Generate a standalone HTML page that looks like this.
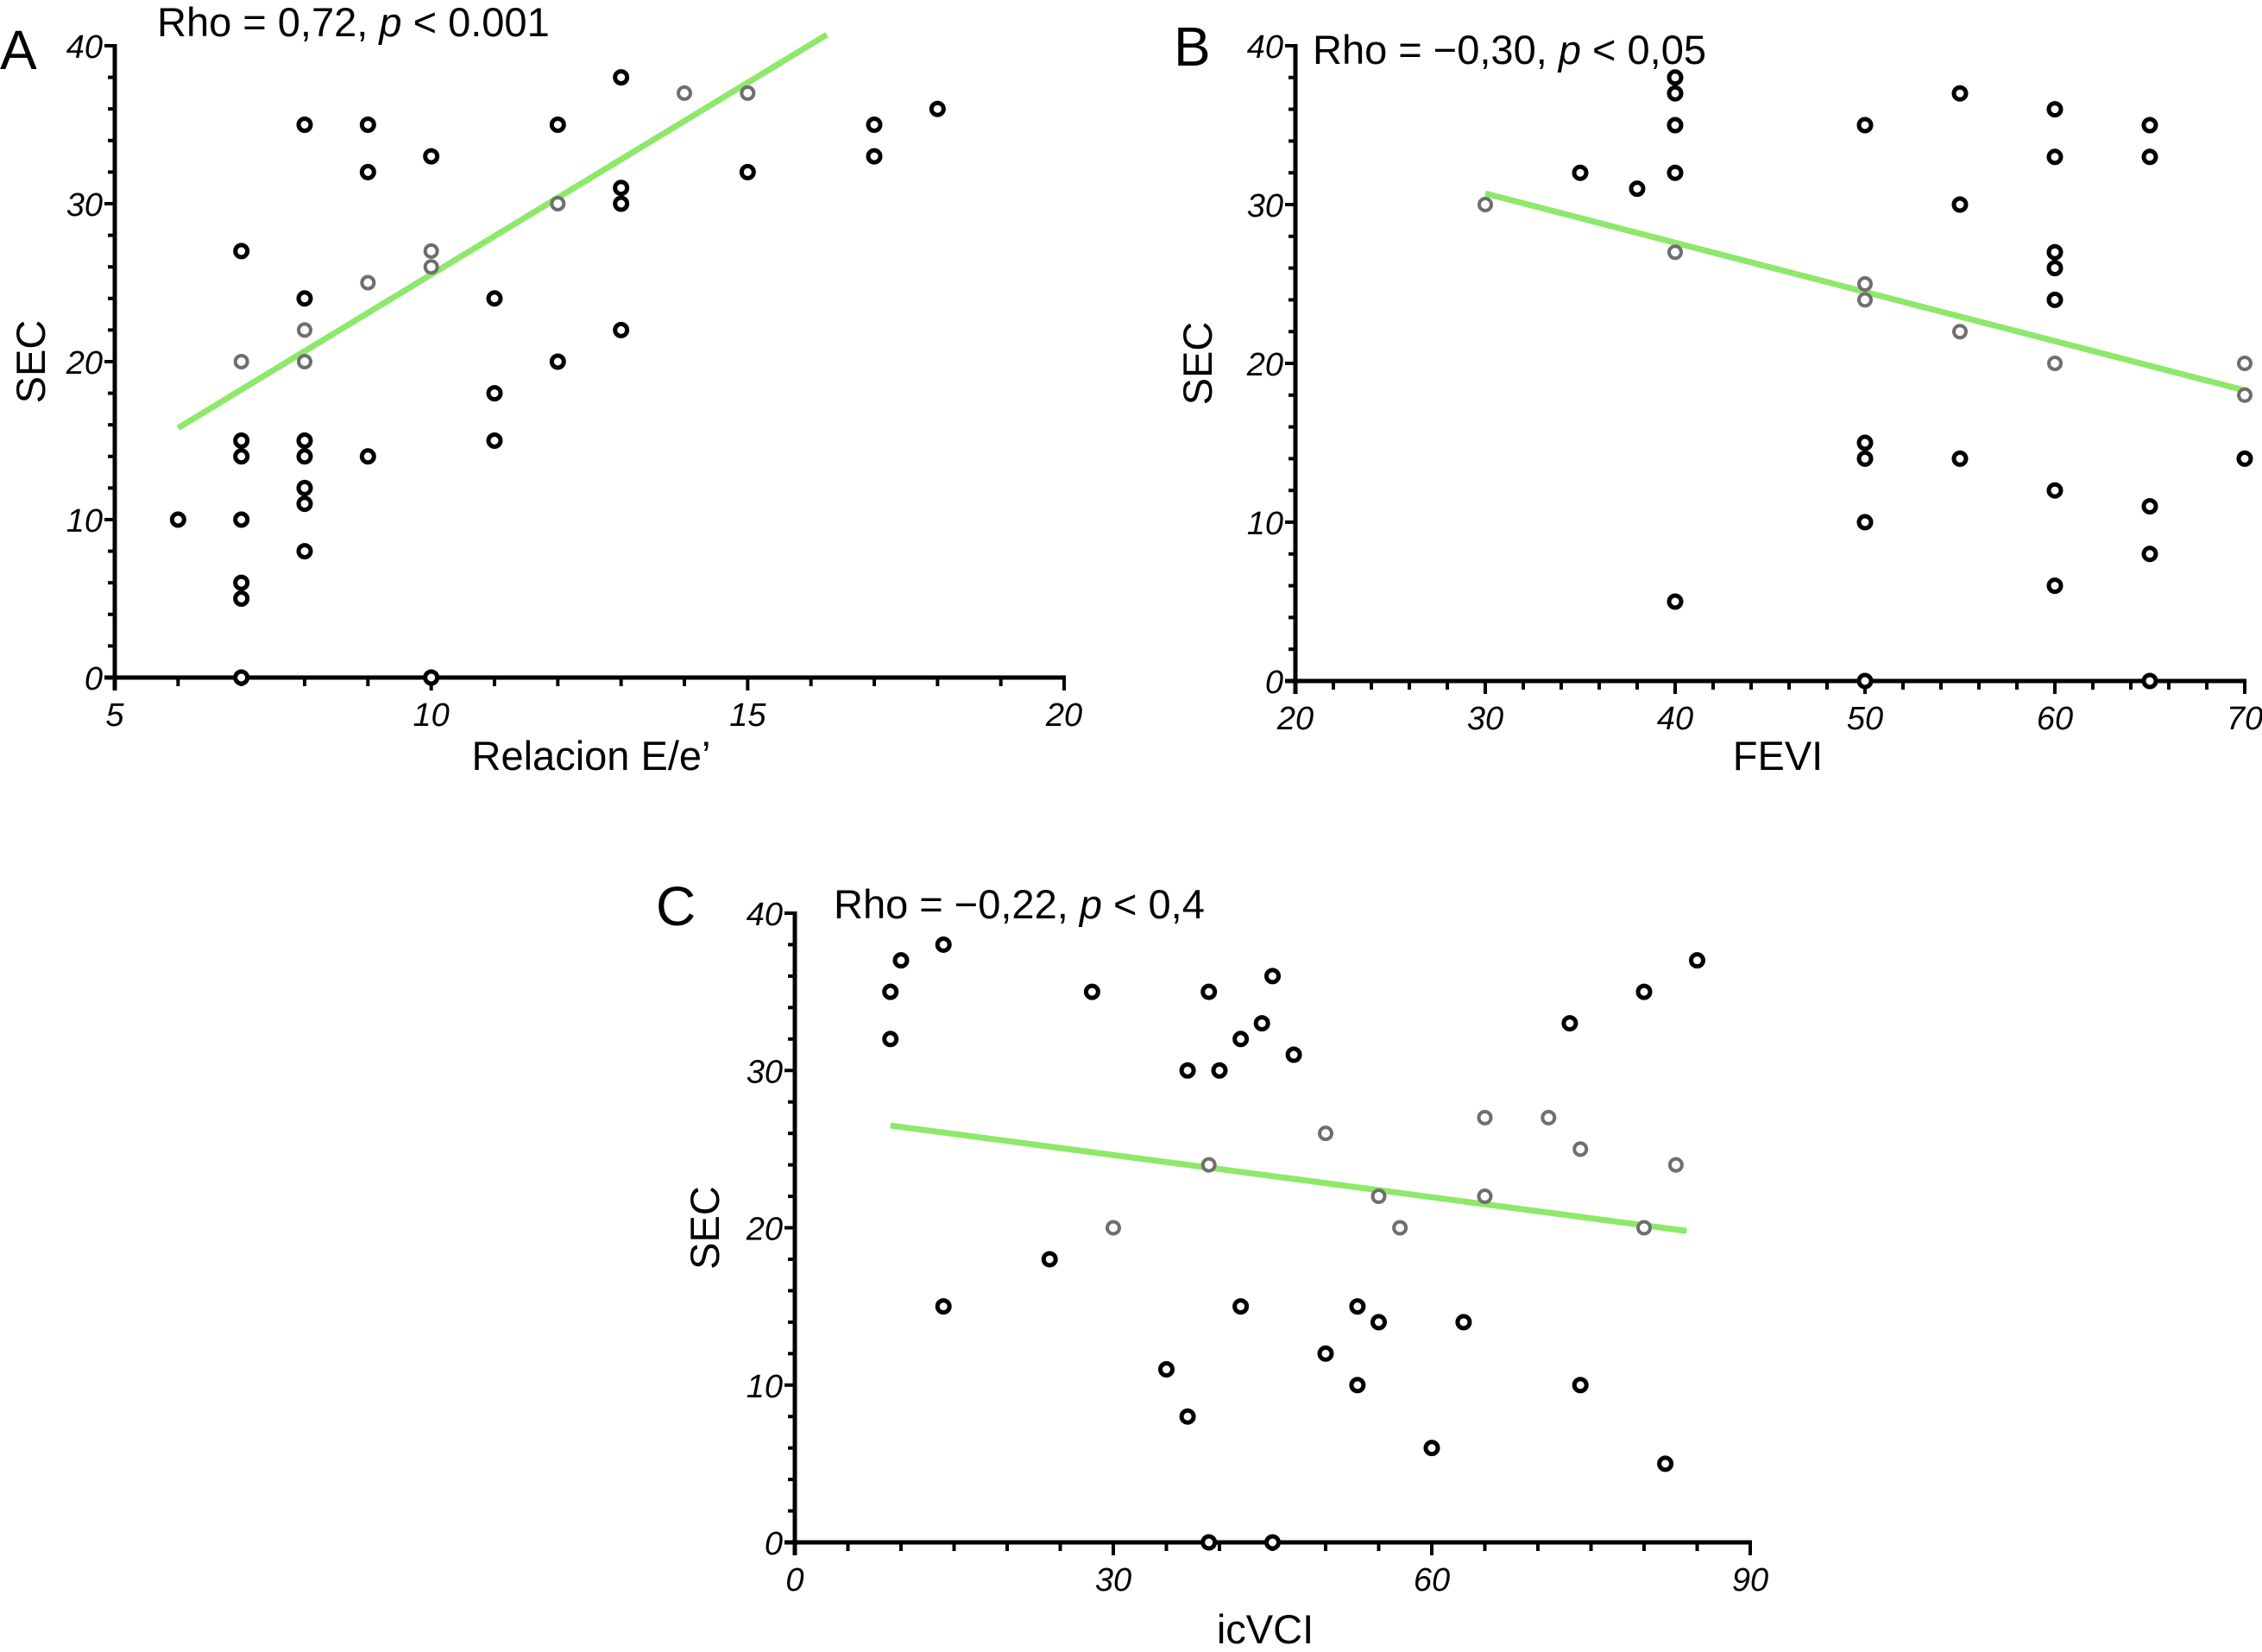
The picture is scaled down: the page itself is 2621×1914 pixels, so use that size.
<!DOCTYPE html>
<html><head><meta charset="utf-8"><style>
body{margin:0;background:#fff;}
svg{display:block;font-family:"Liberation Sans",Arial,sans-serif;}
.tk{font-style:italic;font-size:38px;}
.ttl{font-size:47px;}
.pl{font-size:64px;}
</style></head><body>
<svg id="fig" width="2621" height="1914" viewBox="0 0 2621 1914" xmlns="http://www.w3.org/2000/svg"></svg>
<script>
// Panel A data
const aX = [6,7,7,7,7,7,7,7,7,8,8,8,8,8,8,8,8,8,9,9,9,9,10,10,10,10,11,11,11,12,12,12,13,13,13,13,14,15,15,17,17,18];
const aY = [10,27,20,15,14,10,6,5,0,35,24,22,20,15,14,12,11,8,35,32,25,14,33,27,26,0,24,18,15,35,30,20,38,31,30,22,37,37,32,35,33,36];
const aG = [0,0,1,0,0,0,0,0,0,0,0,1,1,0,0,0,0,0,0,0,1,0,0,1,1,0,0,0,0,0,1,0,0,0,0,0,1,1,0,0,0,0];
const aFit = [[6,15.8],[16.25,40.7]];
const aXTicks = [5,10,15,20];
// Panel B data
const bX = [30,35,38,40,40,40,40,40,40,50,50,50,50,50,50,50,55,55,55,55,60,60,60,60,60,60,60,60,65,65,65,65,65,70,70,70];
const bY = [30,32,31,38,37,35,32,27,5,35,25,24,15,14,10,0,37,30,22,14,36,33,27,26,24,20,12,6,35,33,11,8,0,20,18,14];
const bG = [1,0,0,0,0,0,0,1,0,0,1,1,0,0,0,0,0,0,1,0,0,0,0,0,0,1,0,0,0,0,0,0,0,1,1,0];
const bFit = [[30,30.7],[70,18.3]];
const bXTicks = [20,30,40,50,60,70];
// Panel C data
const cX = [9,9,10,14,14,24,28,30,35,37,37,39,39,39,40,42,42,44,45,45,47,50,50,53,53,55,55,57,60,63,65,65,71,73,74,74,80,80,82,83,85];
const cY = [35,32,37,38,15,18,35,20,11,30,8,35,24,0,30,32,15,33,36,0,31,26,12,15,10,22,14,20,6,14,27,22,27,33,25,10,35,20,5,24,37];
const cG = [0,0,0,0,0,0,0,1,0,0,0,0,1,0,0,0,0,0,0,0,0,1,0,0,0,1,0,1,0,0,1,1,1,0,1,0,0,1,0,1,0];
const cFit = [[9,26.5],[84,19.8]];
const cXTicks = [0,30,60,90];
const yTicks = [0,10,20,30,40];

const NS="http://www.w3.org/2000/svg";
const svg=document.getElementById('fig');
function mk(tag,attrs,parent,txt){const e=document.createElementNS(NS,tag);for(const k in attrs)e.setAttribute(k,attrs[k]);if(txt!==undefined)e.textContent=txt;(parent||svg).appendChild(e);return e;}

function panel(cfg){
  const g=mk('g',{});
  
  
  const sx=v=>cfg.x0+(v-cfg.xmin)/(cfg.xmax-cfg.xmin)*(cfg.x1-cfg.x0);
  const sy=v=>cfg.y0-(v/40)*(cfg.y0-cfg.y1);
  const ya=mk('line',{x1:cfg.x0,y1:cfg.y1-2,x2:cfg.x0,y2:cfg.y0+15,stroke:'#000','stroke-width':5},g);
  
  
  const xa=mk('line',{x1:cfg.x0-12,y1:cfg.y0,x2:cfg.x1+2,y2:cfg.y0,stroke:'#000','stroke-width':5},g);
  
  
  for(let v=0;v<=40;v+=2){
    const t=mk('line',{x1:cfg.x0-(v%10==0?12:8),y1:sy(v),x2:cfg.x0,y2:sy(v),stroke:'#000','stroke-width':4},g);
    
    
  }
  for(let v=cfg.xmin;v<=cfg.xmax+1e-9;v+=cfg.minor){
    const t=mk('line',{x1:sx(v),y1:cfg.y0,x2:sx(v),y2:cfg.y0+(Math.abs((v-cfg.xmin)%cfg.major)<1e-9?15:10),stroke:'#000','stroke-width':4},g);
    
    
  }
  yTicks.forEach(v=>{
    const t=mk('text',{x:cfg.x0-14,y:sy(v)+14,'text-anchor':'end',class:'tk'},g,String(v));
    
    
  });
  cfg.xticks.forEach(v=>{
    const t=mk('text',{x:sx(v),y:cfg.y0+56,'text-anchor':'middle',class:'tk'},g,String(v));
    
    
  });
  const fl=mk('line',{x1:sx(cfg.fit[0][0]),y1:sy(cfg.fit[0][1]),x2:sx(cfg.fit[1][0]),y2:sy(cfg.fit[1][1]),stroke:'#8ee86a','stroke-width':7},g);
  
  
  cfg.xs.forEach((x,i)=>{
    const c=mk('circle',{cx:sx(x),cy:sy(cfg.ys[i]),r:7,fill:'#fff',stroke:cfg.gs[i]?'#6e6e6e':'#000','stroke-width':cfg.gs[i]?4:5},g);
    
    
  });
  const xt=mk('text',{x:cfg.xlx,y:cfg.xly,'text-anchor':'middle',class:'ttl'},g,cfg.xlabel);
  
  
  const yt=mk('text',{x:0,y:0,'text-anchor':'middle',class:'ttl',transform:`translate(${cfg.ylx},${(cfg.y0+cfg.y1)/2}) rotate(-90)`},g,'SEC');
  
  
  const pl=mk('text',{x:cfg.plx,y:cfg.ply,class:'pl'},g,cfg.letter);
  
  
  const st=mk('text',{x:cfg.stx,y:cfg.sty,class:'ttl'},g);
  
  
  mk('tspan',{},st,cfg.rho+', ');
  mk('tspan',{'font-style':'italic'},st,'p');
  mk('tspan',{},st,cfg.pv);
}

panel({name:'panel-a',letter:'A',x0:133,x1:1233,xmin:5,xmax:20,y0:785,y1:53,minor:1,major:5,xticks:aXTicks,xs:aX,ys:aY,gs:aG,fit:aFit,
  xlabel:'Relacion E/e\u2019',xlx:685,xly:892,ylx:52,plx:0,ply:80,stx:182,sty:42,rho:'Rho = 0,72',pv:' < 0.001'});
panel({name:'panel-b',letter:'B',x0:1501,x1:2601,xmin:20,xmax:70,y0:789,y1:53,minor:2,major:10,xticks:bXTicks,xs:bX,ys:bY,gs:bG,fit:bFit,
  xlabel:'FEVI',xlx:2060,xly:892,ylx:1404,plx:1360,ply:76,stx:1521,sty:74,rho:'Rho = \u22120,30',pv:' < 0,05'});
panel({name:'panel-c',letter:'C',x0:921,x1:2028,xmin:0,xmax:90,y0:1787,y1:1058,minor:5,major:30,xticks:cXTicks,xs:cX,ys:cY,gs:cG,fit:cFit,
  xlabel:'icVCI',xlx:1466,xly:1904,ylx:833,plx:760,ply:1072,stx:966,sty:1064,rho:'Rho = \u22120,22',pv:' < 0,4'});
</script>
</body></html>
